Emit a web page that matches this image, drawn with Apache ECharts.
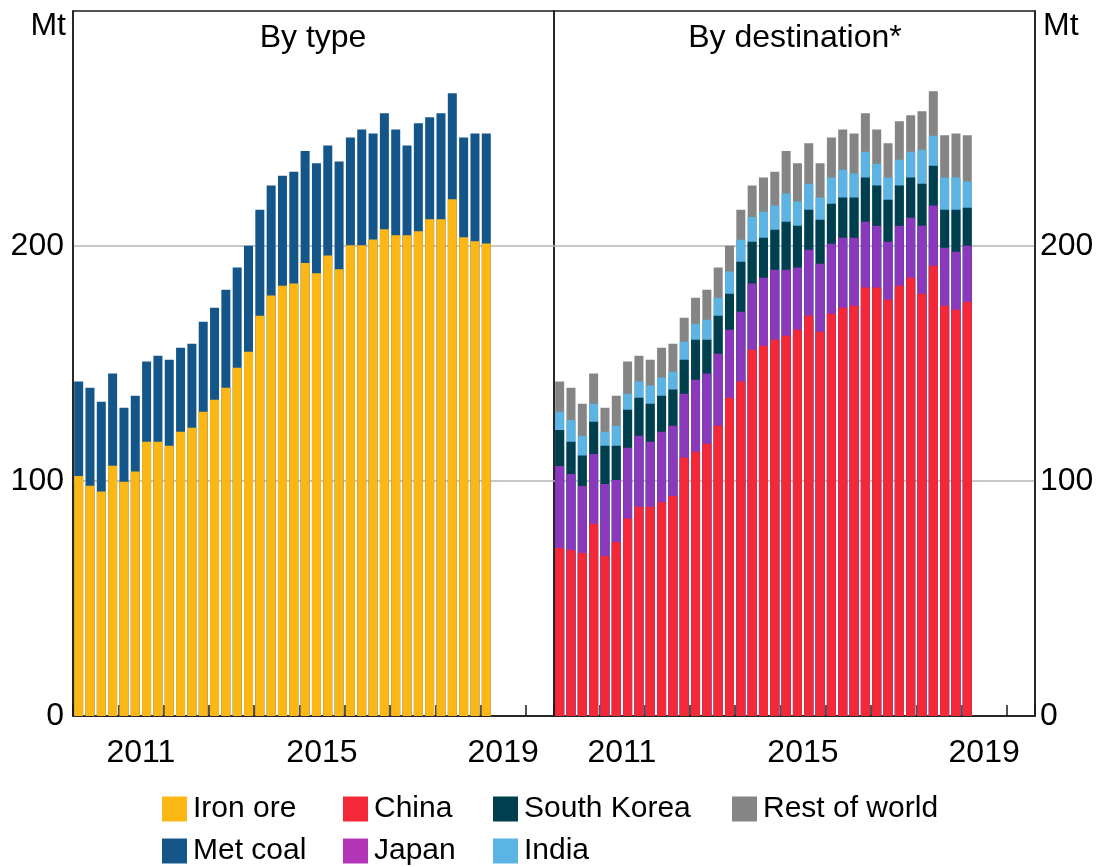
<!DOCTYPE html>
<html><head><meta charset="utf-8">
<script src="https://cdn.jsdelivr.net/npm/echarts@6/dist/echarts.min.js"></script>
<style>html,body{margin:0;padding:0;background:#fff}#c{width:1100px;height:867px}</style>
</head><body><div id="c"></div>
<script>
// ---- Data (Mt per quarter) ----
const quarters = ['2010Q1','2010Q2','2010Q3','2010Q4','2011Q1','2011Q2','2011Q3','2011Q4',
  '2012Q1','2012Q2','2012Q3','2012Q4','2013Q1','2013Q2','2013Q3','2013Q4',
  '2014Q1','2014Q2','2014Q3','2014Q4','2015Q1','2015Q2','2015Q3','2015Q4',
  '2016Q1','2016Q2','2016Q3','2016Q4','2017Q1','2017Q2','2017Q3','2017Q4',
  '2018Q1','2018Q2','2018Q3','2018Q4','2019Q1'];
const yearLabels = [2011, 2015, 2019];
const yTickLabels = [0, 100, 200];

// By type
const ironOre = [102.1,98.0,95.5,106.5,99.7,104.0,116.7,116.7,115.0,121.0,122.7,129.5,134.6,139.7,148.2,155.0,
  170.3,178.9,183.1,184.0,192.8,188.4,196.0,190.1,200.3,200.3,202.8,207.1,204.6,204.6,206.3,211.4,211.4,219.9,203.7,202.0,201.1];
const metCoal = [40.2,41.7,38.2,39.2,31.5,32.3,34.1,36.6,36.6,35.7,35.7,38.3,39.1,41.7,42.6,45.1,
  45.1,46.8,46.8,47.6,47.6,46.8,46.8,45.9,45.9,49.3,45.1,49.4,45.0,38.2,45.9,43.4,45.1,45.1,42.5,45.9,46.8];

// By destination
const china = [71.5,70.6,69.4,81.7,68.1,74.0,84.0,89.0,89.0,91.0,93.6,109.9,112.5,115.9,123.5,135.4,
  142.3,155.9,157.6,160.1,161.8,164.4,170.3,163.5,171.2,173.7,174.6,182.3,182.3,177.1,183.1,186.5,179.7,191.6,174.6,172.9,176.3];
const japan = [34.9,32.4,28.5,29.8,30.6,26.4,30.2,30.3,27.7,30.0,29.9,27.2,30.6,29.8,30.7,29.0,
  29.7,28.1,28.9,29.8,28.1,26.4,28.1,29.0,29.8,29.8,28.9,28.0,26.3,24.7,25.5,25.5,28.9,25.6,24.7,24.7,23.8];
const southKorea = [15.3,13.7,12.9,13.7,16.3,14.6,16.1,16.1,16.2,15.3,15.4,14.5,17.0,14.4,16.1,15.3,
  21.3,17.8,17.0,17.0,20.4,17.8,17.0,18.7,17.0,17.1,17.1,18.8,17.1,17.9,17.1,17.1,17.9,17.0,16.1,17.8,16.2];
const india = [7.8,9.3,8.5,7.7,6.0,8.5,6.8,6.9,7.7,7.7,7.6,7.7,6.8,8.5,7.7,9.4,
  9.4,10.5,11.1,10.3,12.0,10.3,11.1,9.4,11.1,11.9,10.2,11.0,9.3,9.4,11.0,11.0,14.5,12.7,13.7,13.7,11.1];
const restOfWorld = [12.8,13.7,13.6,12.8,10.2,12.8,13.7,11.0,11.0,12.7,11.9,10.2,11.1,12.8,12.8,11.0,
  12.7,13.4,14.5,14.4,18.1,16.3,17.2,14.6,17.1,17.1,17.1,16.4,14.6,14.6,16.4,15.5,16.3,18.9,18.0,18.8,19.7];

// ---- helpers ----
const FONT = "'Liberation Sans', Arial, sans-serif";
const COLORS = {
  'Iron ore': '#FDB714', 'Met coal': '#14568A',
  'China': '#F42837', 'Japan': '#8B38BC', 'South Korea': '#003F4E',
  'India': '#5BB4E4', 'Rest of world': '#858585'
};
function toX(q) { return Number(q.slice(0, 4)) + (Number(q.slice(5)) - 0.5) / 4; }
function cumulative(list) {
  const out = []; let run = quarters.map(() => 0);
  list.forEach(arr => { run = run.map((v, i) => v + arr[i]); out.push(run.slice()); });
  return out;
}
function barSeries(name, idx, vals) {
  return {
    name, type: 'bar', xAxisIndex: idx, yAxisIndex: idx,
    barWidth: 9, barGap: '-100%',
    itemStyle: { color: COLORS[name] },
    silent: true,
    data: quarters.map((q, i) => [toX(q), Math.round(vals[i] * 10) / 10])
  };
}

const leftNames = ['Iron ore', 'Met coal'];
const leftCum = cumulative([ironOre, metCoal]);
const rightNames = ['China', 'Japan', 'South Korea', 'India', 'Rest of world'];
const rightCum = cumulative([china, japan, southKorea, india, restOfWorld]);

const series = [];
for (let k = leftNames.length - 1; k >= 0; k--) series.push(barSeries(leftNames[k], 0, leftCum[k]));
for (let k = rightNames.length - 1; k >= 0; k--) series.push(barSeries(rightNames[k], 1, rightCum[k]));

const BORDER = '#1a1a1a';
function xAxis(gi) {
  return {
    type: 'value', gridIndex: gi, min: 2010, max: 2020.62, interval: 1,
    axisLine: { show: true, lineStyle: { color: BORDER, width: 1.5 } },
    axisTick: { show: true, inside: true, length: 11, lineStyle: { color: BORDER, width: 1.5 } },
    splitLine: { show: false },
    axisLabel: {
      show: true, margin: 21, fontSize: 32, color: '#000', fontFamily: FONT,
      padding: [0, 0, 0, 45],
      formatter: v => (yearLabels.indexOf(Math.round(v * 1000) / 1000) >= 0 ? String(v) : '')
    }
  };
}
function yAxis(gi, pos, margin) {
  return {
    type: 'value', gridIndex: gi, position: pos, min: 0, max: 300, interval: 100,
    axisLine: { show: true, lineStyle: { color: BORDER, width: 1.5 } }, axisTick: { show: false },
    splitLine: { show: true, showMinLine: false, showMaxLine: false, lineStyle: { color: '#b4b4b4', width: 1.5 } },
    axisLabel: {
      margin, fontSize: 32, color: '#000', fontFamily: FONT,
      formatter: v => (yTickLabels.indexOf(v) >= 0 ? String(v) : '')
    }
  };
}

// legend layout: [name, left, row]
const legendItems = [
  ['Iron ore', 162, 0], ['Met coal', 162, 1],
  ['China', 343, 0], ['Japan', 343, 1],
  ['South Korea', 493, 0], ['India', 493, 1],
  ['Rest of world', 732, 0]
];
const legendIconColor = { 'Japan': '#B436B8' };
const legends = legendItems.map(([name, left, row]) => ({
  left, top: row === 0 ? 794 : 836, orient: 'horizontal',
  itemWidth: 25, itemHeight: 25, icon: 'rect', selectedMode: false, padding: 0,
  textStyle: { fontSize: 30, lineHeight: 30, color: '#000', fontFamily: FONT, padding: [0, 0, 0, 1] },
  data: [legendIconColor[name] ? { name, itemStyle: { color: legendIconColor[name] } } : name]
}));

const chart = echarts.init(document.getElementById('c'), null, { renderer: 'canvas' });
chart.setOption({
  animation: false,
  backgroundColor: '#fff',
  grid: [
    { left: 73, top: 11, width: 481, height: 705, show: true, borderColor: BORDER, borderWidth: 1.5, backgroundColor: 'transparent' },
    { left: 554, top: 11, width: 481, height: 705, show: true, borderColor: BORDER, borderWidth: 1.5, backgroundColor: 'transparent' }
  ],
  xAxis: [xAxis(0), xAxis(1)],
  yAxis: [yAxis(0, 'left', 9), yAxis(1, 'right', 5)],
  legend: legends,
  graphic: [
    { type: 'text', x: 313, y: 38, style: { text: 'By type', fill: '#000', font: '32px ' + FONT, align: 'center', verticalAlign: 'middle' } },
    { type: 'text', x: 795, y: 38, style: { text: 'By destination*', fill: '#000', font: '32px ' + FONT, align: 'center', verticalAlign: 'middle' } },
    { type: 'text', x: 66, y: 26, style: { text: 'Mt', fill: '#000', font: '32px ' + FONT, align: 'right', verticalAlign: 'middle' } },
    { type: 'text', x: 1043, y: 26, style: { text: 'Mt', fill: '#000', font: '32px ' + FONT, align: 'left', verticalAlign: 'middle' } }
  ],
  series
});
</script></body></html>
